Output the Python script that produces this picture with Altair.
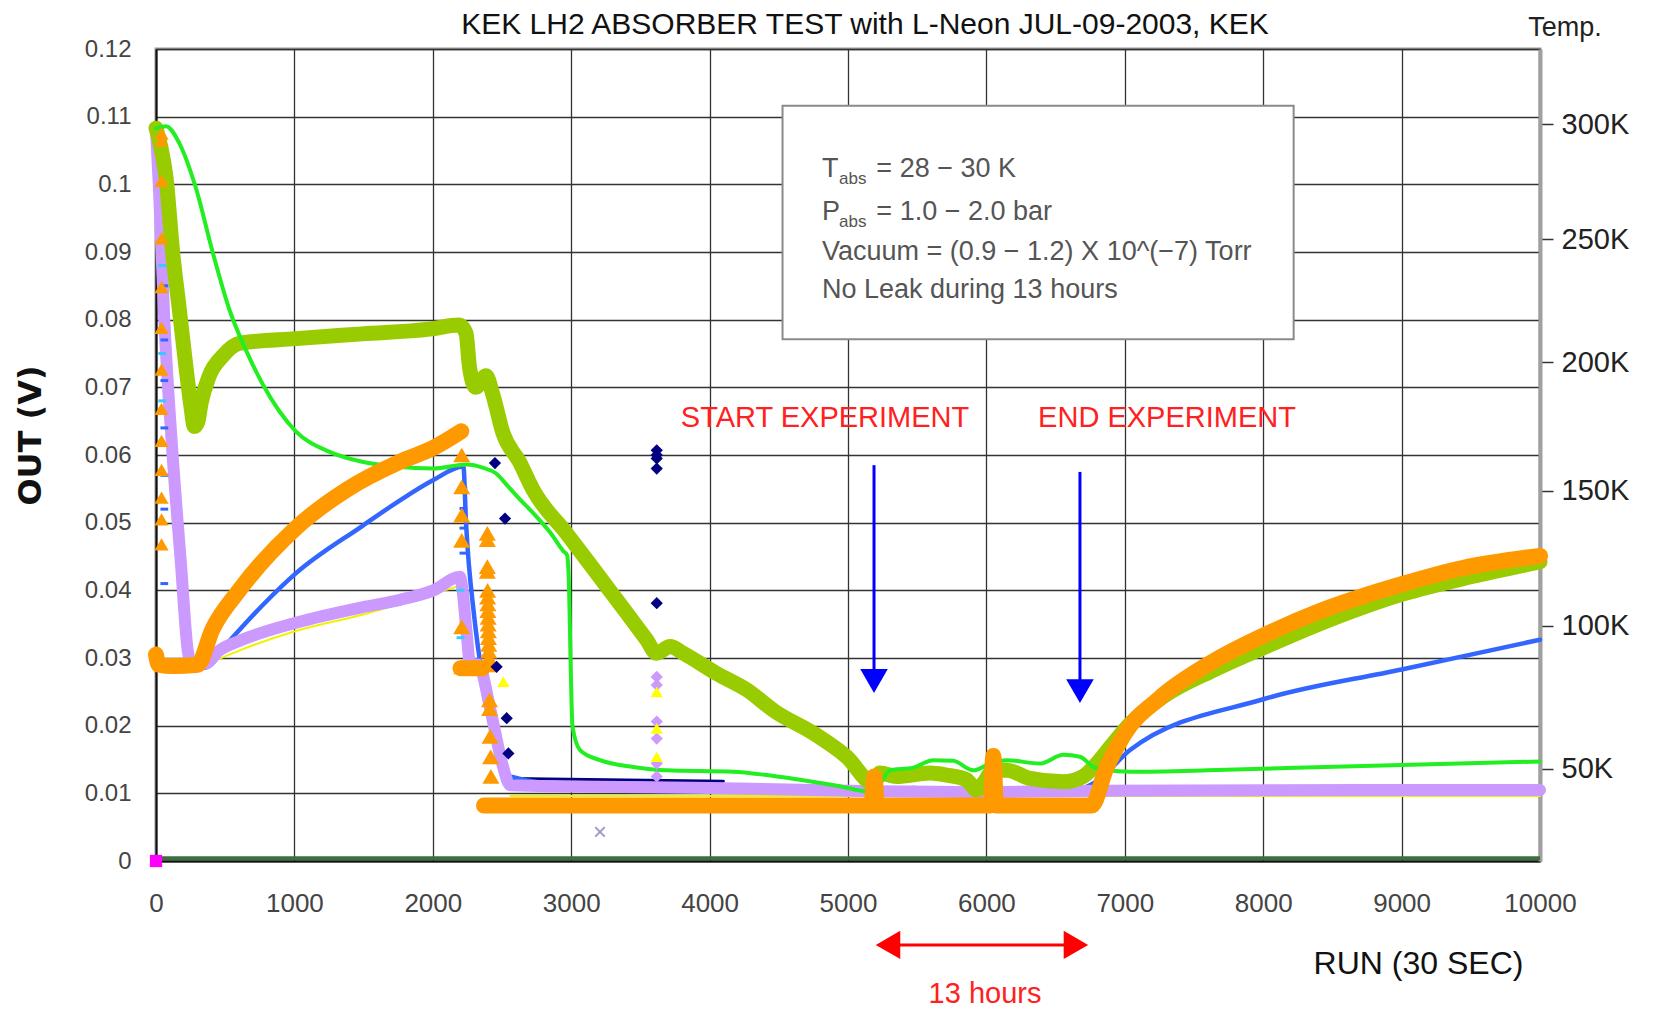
import altair as alt
import pandas as pd

# ---------------- data ----------------
lime_x = [0, 72, 168, 289, 409, 530, 650, 770, 890, 1010, 1250, 1490, 1730, 2004, 2245, 2365,
          2455, 2534, 2626, 2726, 2850, 2943, 2970, 2985, 2995, 3003, 3010, 3064, 3208, 3449,
          3690, 4171, 4412, 4653, 4900, 5183, 5303, 5472, 5616, 5761, 5905, 6026, 6147, 6387,
          6556, 6676, 6772, 6869, 7038, 7600, 8121, 9000, 10000]
lime_y = [0.1083, 0.1086, 0.1061, 0.0994, 0.0900, 0.0815, 0.0755, 0.0705, 0.0665, 0.0635,
          0.0605, 0.0590, 0.0583, 0.0580, 0.0586, 0.0581, 0.0573, 0.0556, 0.0535, 0.0514,
          0.0485, 0.0458, 0.0452, 0.0400, 0.0300, 0.0230, 0.0198, 0.0164, 0.0149, 0.0139,
          0.0134, 0.0132, 0.0127, 0.0120, 0.0112, 0.0102, 0.0134, 0.0138, 0.0149, 0.0148,
          0.0134, 0.0144, 0.0149, 0.0144, 0.0157, 0.0154, 0.0139, 0.0134, 0.0132, 0.0134,
          0.0137, 0.0142, 0.0147]

olive_x = [0, 40, 72, 120, 168, 217, 253, 277, 301, 325, 385, 481, 601, 1010, 1490, 1976, 2190,
           2240, 2265, 2310, 2385, 2434, 2506, 2626, 2726, 2967, 3112, 3329, 3545, 3617, 3714,
           3810, 4051, 4268, 4480, 4749, 4990, 5183, 5231, 5351, 5592, 5713, 5857, 5929, 5978,
           6050, 6147, 6315, 6556, 6700, 6797, 6917, 7038, 7278, 7640, 8000, 8500, 9000, 9500,
           10000]
olive_y = [0.1083, 0.1050, 0.1011, 0.0900, 0.0816, 0.0729, 0.0671, 0.0642, 0.0648, 0.0676,
           0.0717, 0.0746, 0.0765, 0.0772, 0.0779, 0.0786, 0.0792, 0.0780, 0.0730, 0.0700,
           0.0717, 0.0689, 0.0633, 0.0590, 0.0548, 0.0484, 0.0445, 0.0386, 0.0327, 0.0307,
           0.0317, 0.0307, 0.0277, 0.0253, 0.0220, 0.0189, 0.0154, 0.0115, 0.0130, 0.0125,
           0.0130, 0.0127, 0.0120, 0.0105, 0.0115, 0.0134, 0.0134, 0.0122, 0.0117, 0.0125,
           0.0144, 0.0174, 0.0203, 0.0243, 0.0282, 0.0315, 0.0358, 0.0394, 0.0420, 0.0442]

orange_x = [0, 20, 120, 300, 409, 601, 1010, 1372, 1763, 2000, 2206,
            2200, 2360,
            2370, 5170, 5190, 5210, 6030, 6050, 6070, 6760, 6866, 6995, 7253, 7639, 8000, 8407,
            9000, 9442, 10000]
orange_y = [0.0305, 0.0290, 0.0288, 0.0290, 0.0343, 0.0400, 0.0492, 0.0548, 0.0590, 0.0610, 0.0635,
            0.0285, 0.0285,
            0.0082, 0.0082, 0.0125, 0.0082, 0.0082, 0.0155, 0.0082, 0.0082, 0.0137, 0.0187,
            0.0241, 0.0295, 0.0333, 0.0369, 0.0409, 0.0433, 0.0451]
orange_seg = [0] * 11 + [1] * 2 + [2] * 17

blue_x = [0, 60, 120, 180, 240, 300, 361, 530, 770, 1010, 1490, 1763, 2004, 2221, 2240, 2300,
          2366, 2450, 2558, 3000, 4000, 5231, 5472, 5761, 5905, 6147, 6676, 6797, 7038, 8000,
          9000, 10000]
blue_y = [0.1060, 0.0800, 0.0600, 0.0430, 0.0300, 0.0285, 0.0286, 0.0325, 0.0378, 0.0425,
          0.0495, 0.0533, 0.0563, 0.0583, 0.0500, 0.0360, 0.0263, 0.0180, 0.0125, 0.0112,
          0.0108, 0.0101, 0.0108, 0.0098, 0.0095, 0.0104, 0.0107, 0.0118, 0.0164, 0.0239,
          0.0283, 0.0327]

purple_x = [0, 20, 60, 120, 180, 230, 260, 361, 450, 601, 1010, 1490, 1763, 2004, 2197, 2215,
            2245, 2269, 2330, 2420, 2500, 2560, 3000, 4000, 5200, 6000, 6800, 10000]
purple_y = [0.1080, 0.1000, 0.0800, 0.0600, 0.0440, 0.0310, 0.0290, 0.0292, 0.0310, 0.0325,
            0.0352, 0.0375, 0.0386, 0.0400, 0.0420, 0.0400, 0.0336, 0.0292, 0.0290, 0.0220,
            0.0145, 0.0112, 0.0110, 0.0108, 0.0103, 0.0102, 0.0104, 0.0105]

yellow_x = [260, 601, 1010, 1490, 2197, 2560, 10000]
yellow_y = [0.0281, 0.0311, 0.0340, 0.0364, 0.0407, 0.0096, 0.0096]
yellow_seg = [0, 0, 0, 0, 0, 1, 1]

navy_x = [2560, 4100]
navy_y = [0.0122, 0.0118]

base_x = [0, 10000]
base_y = [0.0004, 0.0004]

navy_pt_x = [2449, 2522, 2461, 2534, 2546, 3618, 3618, 3618, 3618, 3618]
navy_pt_y = [0.0588, 0.0506, 0.0287, 0.0211, 0.0159, 0.0607, 0.0600, 0.0595, 0.0580, 0.0381]

lav_pt_x = [3618, 3618, 3618, 3618, 3618, 3618]
lav_pt_y = [0.0272, 0.0260, 0.0206, 0.0181, 0.0144, 0.0125]

yel_pt_x = [2510, 3618, 3618, 3618]
yel_pt_y = [0.0265, 0.0250, 0.0196, 0.0154]

otri_left_x = [40, 40, 40, 40, 40, 40, 40, 40, 40, 40, 40, 40, 40]
otri_left_y = [0.1075, 0.1065, 0.1005, 0.0920, 0.0848, 0.0788, 0.0726, 0.0668, 0.0621, 0.0578,
               0.0537, 0.0505, 0.0468]
otri_mid_x = [2209, 2209, 2209, 2209, 2209, 2209,
              2394, 2394, 2394, 2394, 2396, 2396, 2398, 2398, 2400, 2400, 2402, 2402, 2404, 2404,
              2406, 2406, 2410, 2410, 2414, 2418, 2420]
otri_mid_y = [0.0600, 0.0553, 0.0511, 0.0474, 0.0346, 0.0287,
              0.0484, 0.0475, 0.0435, 0.0428, 0.0400, 0.0390, 0.0380, 0.0370, 0.0360, 0.0350,
              0.0340, 0.0330, 0.0320, 0.0310, 0.0300, 0.0290, 0.0238, 0.0225, 0.0184, 0.0154,
              0.0125]

bdash_x = [60, 60, 60, 60, 60, 60, 60, 60, 2221, 2221, 2221, 2221]
bdash_y = [0.0920, 0.0850, 0.0770, 0.0710, 0.0640, 0.0570, 0.0520, 0.0410,
           0.0551, 0.0521, 0.0492, 0.0455]
cdash_x = [45, 45, 45, 2200, 2200]
cdash_y = [0.0880, 0.0750, 0.0680, 0.0400, 0.0330]

xmark_x = [3208]
xmark_y = [0.0043]
sq_x = [0]
sq_y = [0.0]

# axes
x_ticks = [0, 1000, 2000, 3000, 4000, 5000, 6000, 7000, 8000, 9000, 10000]
y_ticks = [0.0, 0.01, 0.02, 0.03, 0.04, 0.05, 0.06, 0.07, 0.08, 0.09, 0.10, 0.11, 0.12]
temp_labels = ["50K", "100K", "150K", "200K", "250K", "300K"]
temp_volts = [0.0136, 0.0348, 0.0547, 0.0737, 0.0919, 0.1089]

# annotations
title_text = ["KEK LH2 ABSORBER TEST with L-Neon JUL-09-2003, KEK"]
title_x = [5123]
title_y = [0.1236]

box_x, box_x2, box_y, box_y2 = [4527], [8220], [0.0771], [0.1116]
info_big_x = [4812, 4812]
info_big_y = [0.1022, 0.0959]
info_big_t = ["T", "P"]
info_sub_x = [4935, 4935]
info_sub_y = [0.1008, 0.0945]
info_sub_t = ["abs", "abs"]
info_rest_x = [5205, 5205]
info_rest_y = [0.1022, 0.0959]
info_rest_t = ["= 28 − 30 K", "= 1.0 − 2.0 bar"]
info_line_x = [4812, 4812]
info_line_y = [0.0900, 0.0844]
info_line_t = ["Vacuum = (0.9 − 1.2) X 10^(−7) Torr", "No Leak during 13 hours"]

red_x = [4834, 7305, 5990]
red_y = [0.0655, 0.0655, -0.0196]
red_t = ["START EXPERIMENT", "END EXPERIMENT", "13 hours"]
red_size = [29, 29, 29]

arrow_x = [5188, 6676]
arrow_top = [0.0585, 0.0575]
arrow_head = [0.0266, 0.0251]

harrow_x = [5289, 6647]
harrow_y = [-0.0124, -0.0124]

temp_title_x = [10181]
temp_title_y = [0.1231]

# ---------------- chart ----------------
LAB = "Liberation Sans"
xs = alt.Scale(domain=[0, 10000], nice=False, zero=False)
ys = alt.Scale(domain=[0, 0.12], nice=False, zero=False)

xaxis = alt.Axis(values=x_ticks, format="d", grid=True, ticks=False, labelPadding=42,
                 labelBaseline="middle", labelFlush=False, labelFont=LAB, labelFontSize=26,
                 labelColor="#444",
                 title="RUN (30 SEC)", titleFont=LAB, titleFontSize=32, titleFontWeight="normal",
                 titleColor="#111", titleAnchor="start", titleAlign="center", titleBaseline="middle",
                 titleX=1262, titleY=102, domainColor="#111", domainWidth=2)
yaxis = alt.Axis(values=y_ticks, labelExpr="format(datum.value, '.2~f')", grid=True, ticks=False,
                 labelPadding=25, labelFlush=False, labelFont=LAB, labelFontSize=24,
                 labelColor="#444",
                 title="OUT (V)", titleFont="DejaVu Sans", titleFontSize=32, titleFontWeight="bold",
                 titleColor="#111", titleAngle=-90, titleAlign="center", titleBaseline="middle",
                 titleX=-126, titleY=386, domainColor="#111", domainWidth=2)

X = alt.X("x:Q", scale=xs, axis=xaxis)
Y = alt.Y("y:Q", scale=ys, axis=yaxis)


def line_layer(xv, yv, color, width, seg=None, cap="round", interp="monotone"):
    df = pd.DataFrame({"x": xv, "y": yv, "i": list(range(len(xv))),
                       "seg": seg if seg is not None else [0] * len(xv)})
    return alt.Chart(df).mark_line(color=color, strokeWidth=width, strokeCap=cap,
                                   strokeJoin="round", interpolate=interp).encode(
        x=X, y=Y, detail="seg:N", order="i:Q")


def point_layer(xv, yv, color, shape, size, filled=True, sw=1):
    df = pd.DataFrame({"x": xv, "y": yv})
    return alt.Chart(df).mark_point(shape=shape, size=size, filled=filled, color=color,
                                    opacity=1, strokeWidth=sw).encode(x=X, y=Y)


def text_layer(xv, yv, tv, color, size, align="left", font=LAB, weight="normal"):
    df = pd.DataFrame({"x": xv, "y": yv, "t": tv})
    return alt.Chart(df).mark_text(align=align, baseline="middle", color=color, fontSize=size,
                                   font=font, fontWeight=weight).encode(x=X, y=Y, text="t:N")


box = alt.Chart(pd.DataFrame({"x": box_x, "x2": box_x2, "y": box_y, "y2": box_y2})).mark_rect(
    fill="white", stroke="#8a8a8a", strokeWidth=2).encode(x=X, x2="x2:Q", y=Y, y2="y2:Q")

arrows_df = pd.DataFrame({"x": arrow_x, "y": arrow_top, "y2": arrow_head})
arrow_lines = alt.Chart(arrows_df).mark_rule(color="#0000ff", strokeWidth=3).encode(
    x=X, y=Y, y2="y2:Q")
arrow_heads = alt.Chart(pd.DataFrame({"x": arrow_x, "y": arrow_head})).mark_point(
    shape="triangle-down", size=760, filled=True, color="#0000ff", opacity=1).encode(x=X, y=Y)

h_df = pd.DataFrame({"x": [harrow_x[0]], "x2": [harrow_x[1]], "y": [harrow_y[0]]})
h_line = alt.Chart(h_df).mark_rule(color="#ff0000", strokeWidth=3).encode(x=X, x2="x2:Q", y=Y)
h_left = point_layer([harrow_x[0]], [harrow_y[0]], "#ff0000", "triangle-left", 800)
h_right = point_layer([harrow_x[1]], [harrow_y[1]], "#ff0000", "triangle-right", 800)

red_layers = [text_layer([red_x[i]], [red_y[i]], [red_t[i]], "#ff2020", red_size[i], align="center")
              for i in range(len(red_t))]

inner = alt.layer(
    line_layer(base_x, base_y, "#3d6e3d", 4, cap="butt", interp="linear"),
    box,
    line_layer(yellow_x, yellow_y, "#f2f200", 2, seg=yellow_seg),
    line_layer(navy_x, navy_y, "#000080", 3, interp="linear"),
    line_layer(blue_x, blue_y, "#3366ff", 4.5),
    line_layer(purple_x, purple_y, "#cc99ff", 12),
    point_layer(bdash_x, bdash_y, "#3366ff", "stroke", 60, filled=False, sw=3),
    point_layer(cdash_x, cdash_y, "#33ccff", "stroke", 60, filled=False, sw=3),
    line_layer(olive_x, olive_y, "#99cc00", 15),
    line_layer(lime_x, lime_y, "#22ee22", 4),
    line_layer(orange_x, orange_y, "#ff9900", 16, seg=orange_seg),
    point_layer(otri_left_x, otri_left_y, "#ff9900", "triangle-up", 200),
    point_layer(otri_mid_x, otri_mid_y, "#ff9900", "triangle-up", 290),
    point_layer(navy_pt_x, navy_pt_y, "#000080", "diamond", 150),
    point_layer(lav_pt_x, lav_pt_y, "#cc99ff", "diamond", 150),
    point_layer(yel_pt_x, yel_pt_y, "#ffff00", "triangle-up", 150),
    point_layer(xmark_x, xmark_y, "#9999cc", "M-1,-1L1,1M1,-1L-1,1", 90, filled=False, sw=2),
    point_layer(sq_x, sq_y, "#ff00ff", "square", 150),
    text_layer(info_big_x, info_big_y, info_big_t, "#555555", 27),
    text_layer(info_sub_x, info_sub_y, info_sub_t, "#555555", 17),
    text_layer(info_rest_x, info_rest_y, info_rest_t, "#555555", 27),
    text_layer(info_line_x, info_line_y, info_line_t, "#555555", 27),
    *red_layers,
    arrow_lines, arrow_heads,
    h_line, h_left, h_right,
    text_layer(temp_title_x, temp_title_y, ["Temp."], "#222222", 27, align="center"),
    text_layer(title_x, title_y, title_text, "#111111", 30, align="center"),
)

label_expr = "''"
for v, l in zip(temp_volts, temp_labels):
    label_expr = f"abs(datum.value - {v}) < 0.0005 ? '{l}' : " + label_expr

right_axis = alt.Chart(pd.DataFrame({"y": temp_volts})).mark_rule(opacity=0).encode(
    y=alt.Y("y:Q", scale=alt.Scale(domain=[0, 0.12], nice=False, zero=False),
            axis=alt.Axis(orient="right", values=temp_volts, labelExpr=label_expr, grid=False,
                          ticks=True, tickSize=13, tickColor="#333", tickWidth=1.5,
                          labelPadding=8, labelFont=LAB, labelFontSize=29, labelColor="#222",
                          domainColor="#a0a0a0", domainWidth=4, title=None))
)

chart = alt.layer(inner, right_axis).resolve_scale(y="independent").properties(
    width=1384, height=812,
    padding={"left": 148, "top": 41, "right": 106, "bottom": 148},
    autosize=alt.AutoSizeParams(type="none"),
).configure_view(stroke="#9a9a9a", strokeWidth=3).configure_axis(
    gridColor="#333333", gridWidth=1.3, gridOpacity=1)

chart.save("out.html", embed_options={"renderer": "svg", "actions": False})
